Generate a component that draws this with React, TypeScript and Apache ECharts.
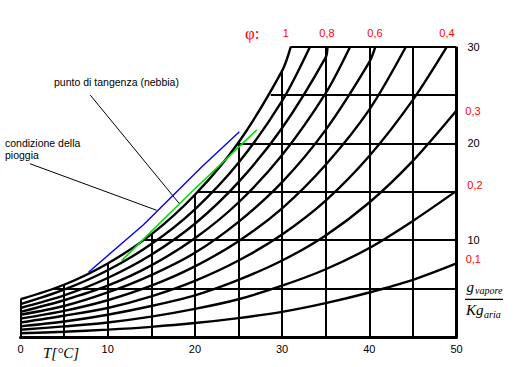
import React, { useEffect, useRef } from "react";
import * as echarts from "echarts";

// temperatures (°C) at which curve values were read
const temps = [0, 5, 10, 15, 20, 25, 30, 35, 40, 45, 50];

// g vapore / Kg aria for each relative humidity curve, read at temps[]
const phi100 = [3.9, 5.4, 7.6, 10.6, 14.7, 20.1, 27.5];
const phi90 = [3.4, 4.9, 6.9, 9.6, 13.2, 18.0, 24.4];
const phi80 = [3.0, 4.3, 6.1, 8.5, 11.7, 16.0, 21.6, 28.9];
const phi70 = [2.6, 3.8, 5.3, 7.4, 10.2, 13.9, 18.8, 25.2];
const phi60 = [2.3, 3.2, 4.6, 6.4, 8.7, 11.9, 16.0, 21.4, 28.4];
const phi50 = [1.9, 2.7, 3.8, 5.3, 7.3, 9.9, 13.3, 17.8, 23.5];
const phi40 = [1.5, 2.2, 3.0, 4.2, 5.8, 7.9, 10.6, 14.1, 18.7, 24.5];
const phi30 = [1.1, 1.6, 2.3, 3.2, 4.3, 5.9, 7.9, 10.5, 13.9, 18.2, 23.4];
const phi20 = [0.75, 1.1, 1.5, 2.1, 2.9, 3.9, 5.3, 7.0, 9.2, 12.0, 15.1];
const phi10 = [0.38, 0.54, 0.76, 1.05, 1.44, 1.95, 2.6, 3.5, 4.6, 5.9, 7.6];
const curveValues = [phi100, phi90, phi80, phi70, phi60, phi50, phi40, phi30, phi20, phi10];
// temperature where each curve reaches the top border (30 g/kg)
const curveTopTemps = [31.0, 33.2, 35.2, 37.8, 40.7, 44.2, 48.9, null, null, null];
const yTop = 30;

// grid lines, clipped by the saturation curve
const gridXs = [5, 10, 15, 20, 25, 30, 35, 40, 45];
const gridXTops = [5.4, 7.6, 10.6, 14.7, 20.1, 27.5, 30, 30, 30];
const gridYs = [5, 10, 15, 20, 25];
const gridYStarts = [3.7, 14.2, 20.3, 24.9, 28.7];
const satAtZero = 3.9;

// blue line (condizione della pioggia) and green line (punto di tangenza)
const blueT = [7.8, 14.1, 20.8, 25.1];
const blueX = [6.7, 11.6, 17.6, 21.2];
const greenT = [11.6, 19.4, 27.1];
const greenX = [7.9, 14.8, 21.4];

// pointer lines from the notes: [T, x] start and end
const tangentPointer = [[8.0, 25.0], [18.2, 13.8]];
const rainPointer = [[1.1, 17.9], [15.6, 13.1]];

// labels
const phiTopLabels = ["1", "0,8", "0,6", "0,4"];
const phiRightLabels = ["0,3", "0,2", "0,1"];

const SANS = '"Liberation Sans", Arial, sans-serif';
const SERIF = '"Liberation Serif", "Times New Roman", serif';

function txt(text: string, x: number, y: number, font: string, fill = "#000", align = "left") {
  return {
    type: "text",
    x,
    y,
    silent: true,
    z: 10,
    style: { text, fill, font, align, verticalAlign: "middle" },
  };
}

export default function App() {
  const ref = useRef<HTMLDivElement>(null);
  useEffect(() => {
    if (!ref.current) return;
    const chart = echarts.init(ref.current, undefined, { renderer: "svg" });

    const curveSeries = curveValues.map((vals, k) => {
      const data: number[][] = vals.map((v, i) => [temps[i], v]);
      const end = curveTopTemps[k];
      if (end != null) data.push([end, yTop]);
      return {
        type: "line",
        data,
        smooth: 0.3,
        symbol: "none",
        silent: true,
        z: 3,
        lineStyle: { color: "#000", width: 2.4 },
      };
    });

    const gridSegments: any[] = [];
    gridXs.forEach((x, i) => gridSegments.push({ coords: [[x, 0], [x, gridXTops[i]]] }));
    gridYs.forEach((y, i) => gridSegments.push({ coords: [[gridYStarts[i], y], [50, y]] }));
    gridSegments.push({ coords: [[curveTopTemps[0], yTop], [50, yTop]] });
    gridSegments.push({ coords: [[0, 0], [0, satAtZero]] });

    const positionsTop = [285.7, 327, 375, 447];
    const positionsRight: [number, number][] = [[473, 111], [475, 185], [473.3, 259]];

    chart.setOption({
      animation: false,
      backgroundColor: "#fff",
      grid: { left: 20.5, right: 73.5, top: 46.7, bottom: 30, containLabel: false },
      xAxis: {
        type: "value",
        min: 0,
        max: 50,
        interval: 10,
        axisLine: { show: true, lineStyle: { color: "#000", width: 3 } },
        axisTick: { show: false },
        splitLine: { show: false },
        axisLabel: { color: "#000", fontSize: 11, fontFamily: SANS, margin: 6 },
      },
      yAxis: {
        type: "value",
        position: "right",
        min: 0,
        max: 30,
        interval: 10,
        axisLine: { show: false },
        axisTick: { show: false },
        splitLine: { show: false },
        axisLabel: {
          color: "#000",
          fontSize: 11,
          fontFamily: SANS,
          margin: 11,
          formatter: (v: number) => (v === 0 ? "" : String(v)),
        },
      },
      series: [
        {
          type: "lines",
          coordinateSystem: "cartesian2d",
          silent: true,
          z: 2,
          lineStyle: { color: "#000", width: 2, opacity: 1, curveness: 0 },
          data: gridSegments,
        },
        {
          type: "lines",
          coordinateSystem: "cartesian2d",
          silent: true,
          z: 2,
          lineStyle: { color: "#000", width: 3, opacity: 1, curveness: 0 },
          data: [{ coords: [[50, 0], [50, yTop]] }],
        },
        ...curveSeries,
        {
          type: "line",
          data: blueT.map((t, i) => [t, blueX[i]]),
          symbol: "none",
          silent: true,
          z: 5,
          lineStyle: { color: "#0000ff", width: 1.4 },
        },
        {
          type: "line",
          data: greenT.map((t, i) => [t, greenX[i]]),
          symbol: "none",
          silent: true,
          z: 5,
          lineStyle: { color: "#00e000", width: 1.6 },
        },
        {
          type: "lines",
          coordinateSystem: "cartesian2d",
          silent: true,
          z: 6,
          lineStyle: { color: "#000", width: 1, opacity: 1, curveness: 0 },
          data: [{ coords: tangentPointer }, { coords: rainPointer }],
        },
      ],
      graphic: [
        txt("punto di tangenza (nebbia)", 54, 82, `10.5px ${SANS}`),
        txt("condizione della", 5, 142.5, `10.5px ${SANS}`),
        txt("pioggia", 5, 155, `10.5px ${SANS}`),
        txt("φ:", 245, 33, `17px ${SERIF}`, "#ff0000"),
        ...phiTopLabels.map((l, i) => txt(l, positionsTop[i], 33, `11px ${SANS}`, "#ff0000", "center")),
        ...phiRightLabels.map((l, i) =>
          txt(l, positionsRight[i][0], positionsRight[i][1], `11px ${SANS}`, "#ff0000", "center")
        ),
        txt("T[°C]", 43, 353, `italic 15px ${SERIF}`),
        txt("g", 466.5, 287, `italic 15px ${SERIF}`),
        txt("vapore", 475, 290, `italic 10px ${SERIF}`),
        {
          type: "line",
          silent: true,
          z: 10,
          shape: { x1: 465, y1: 299.3, x2: 503, y2: 299.3 },
          style: { stroke: "#000", lineWidth: 1.3 },
        },
        txt("Kg", 466, 310, `italic 15px ${SERIF}`),
        txt("aria", 484, 314.5, `italic 10px ${SERIF}`),
      ],
    });
    return () => chart.dispose();
  }, []);
  return (
    <div
      ref={ref}
      style={{ position: "absolute", left: 0, top: 0, width: 530, height: 367, background: "#fff" }}
    />
  );
}
